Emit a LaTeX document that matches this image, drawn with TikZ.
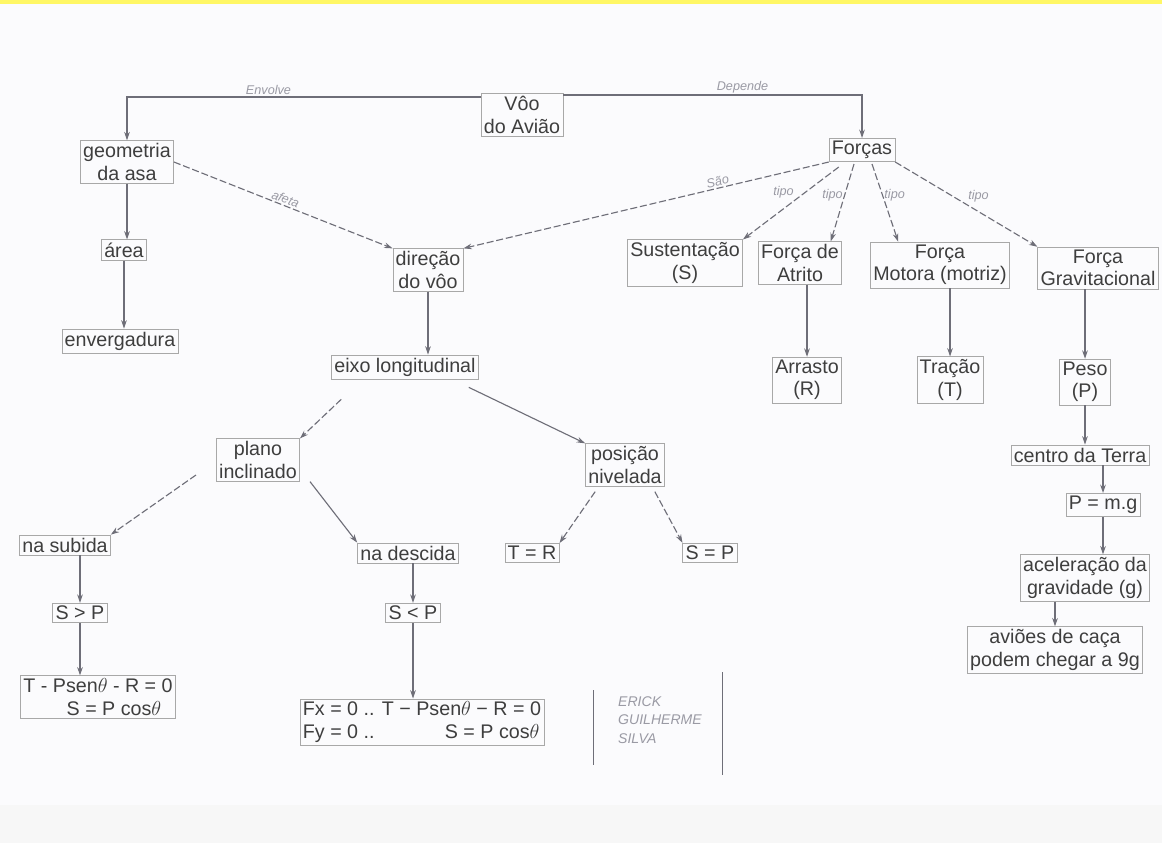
\documentclass[tikz,border=0pt]{standalone}
\usepackage{fontspec}
\setmainfont{Liberation Sans}
\usetikzlibrary{arrows.meta}
\definecolor{ink}{HTML}{3E3E3E}
\definecolor{ln}{HTML}{6E6E78}
\definecolor{bx}{HTML}{A8A8A8}
\definecolor{hand}{HTML}{9A9AA4}
\definecolor{paper}{HTML}{FBFBFD}
\tikzset{
  cbox/.style={draw=bx, line width=0.5pt, text=ink, align=center, inner sep=2pt,
     font=\fontsize{14}{16}\selectfont},
  link/.style={draw=ln, line width=0.8pt, -{Stealth[length=6pt,width=4pt]}},
  dlink/.style={link, dashed, dash pattern=on 5pt off 2pt},
  hlabel/.style={text=hand, font=\itshape\fontsize{9}{10}\selectfont, inner sep=1pt}
}
\begin{document}
\begin{tikzpicture}[x=0.025cm,y=-0.025cm]
\fill[paper] (0,0) rectangle (1162,843);
\useasboundingbox (0,0) rectangle (1162,843);
\fill[yellow!60!white] (0,0) rectangle (1162,4);
\fill[gray!6] (0,805) rectangle (1162,843);

% nodes
\node[cbox] (voo) at (522,115) {Vôo\\do Avião};
\node[cbox] (geo) at (127,162) {geometria\\da asa};
\node[cbox] (forcas) at (862,150) {Forças};
\node[cbox] (area) at (124,250) {área};
\node[cbox] (env) at (120,341) {envergadura};
\node[cbox] (dir) at (428,270) {direção\\do vôo};
\node[cbox] (eixo) at (405,367) {eixo longitudinal};
\node[cbox] (sust) at (685,263) {Sustentação\\(S)};
\node[cbox] (atr) at (800,263) {Força de\\Atrito};
\node[cbox] (mot) at (940,265) {Força\\Motora (motriz)};
\node[cbox] (grav) at (1098,268) {Força\\Gravitacional};
\node[cbox] (arr) at (807,380) {Arrasto\\(R)};
\node[cbox] (trac) at (950,380) {Tração\\(T)};
\node[cbox] (peso) at (1085,382) {Peso\\(P)};
\node[cbox] (centro) at (1080,455) {centro da Terra};
\node[cbox] (pmg) at (1103,505) {P = m.g};
\node[cbox] (acel) at (1085,578) {aceleração da\\gravidade (g)};
\node[cbox] (cacas) at (1055,650) {aviões de caça\\podem chegar a 9g};
\node[cbox] (plano) at (258,460) {plano\\inclinado};
\node[cbox] (pos) at (625,465) {posição\\nivelada};
\node[cbox] (sub) at (65,545) {na subida};
\node[cbox] (desc) at (408,553) {na descida};
\node[cbox] (tr) at (532,553) {T = R};
\node[cbox] (sp) at (710,553) {S = P};
\node[cbox] (sgp) at (80,613) {S > P};
\node[cbox] (slp) at (413,613) {S < P};
\node[cbox, align=left] (eq1) at (98,697) {T - Psen$\theta$ - R = 0\\\hspace*{2.2em}S = P cos$\theta$};
\node[cbox, align=left] (eq2) at (422,722) {Fx = 0 .. T − Psen$\theta$ − R = 0\\Fy = 0 .. \hspace*{3.2em}S = P cos$\theta$};
\node[text=hand, align=left, font=\itshape\fontsize{10}{13}\selectfont] (names) at (660,720) {ERICK\\GUILHERME\\SILVA};
\coordinate (nl1) at (593,690); \coordinate (nl2) at (593,765);
\coordinate (nr1) at (722,672); \coordinate (nr2) at (722,775);
\draw[ln, line width=0.7pt] (nl1) -- (nl2);
\draw[ln, line width=0.7pt] (nr1) -- (nr2);

% connectors from root
\draw[link] (voo.west |- 0,97) -| (geo.north) node[hlabel, pos=0.3, above] {Envolve};
\draw[link] (voo.east |- 0,95) -| (forcas.north) node[hlabel, pos=0.3, above] {Depende};

\draw[dlink] (geo.east) -- (dir.north west) node[hlabel, midway, above, sloped] {afeta};
\draw[dlink] (forcas.south west) -- (dir.north east) node[hlabel, pos=0.3, above, sloped] {São};
\draw[dlink] (forcas.south west) ++(10,5) -- (sust.north east) node[hlabel, pos=0.45, above left] {tipo};
\draw[dlink] (forcas.south) ++(-8,2) -- ([xshift=-8pt]atr.north east) node[hlabel, pos=0.4, left] {tipo};
\draw[dlink] (forcas.south) ++(10,2) -- ([xshift=20pt]mot.north west) node[hlabel, pos=0.4, right] {tipo};
\draw[dlink] (forcas.south east) -- (grav.north west) node[hlabel, midway, above right] {tipo};

\draw[link] (geo.south) -- (geo.south |- area.north);
\draw[link] (area.south) -- (area.south |- env.north);
\draw[link] (dir.south) -- (dir.south |- eixo.north);
\draw[dlink] (eixo.south west) ++(10,20) -- (plano.north east);
\draw[link] (eixo.south east) ++(-10,8) -- (pos.north west);
\draw[dlink] (plano.west) ++(-20,15) -- (sub.north east);
\draw[link] (plano.south east) ++(10,0) -- (desc.north west);
\draw[dlink] (pos.south west) ++(10,5) -- (tr.north east);
\draw[dlink] (pos.south east) ++(-10,5) -- (sp.north west);
\draw[link] (sub.south -| sgp) -- (sgp.north);
\draw[link] (desc.south -| slp) -- (slp.north);
\draw[link] (sgp.south) -- (sgp.south |- eq1.north);
\draw[link] (slp.south) -- (slp.south |- eq2.north);

\draw[link] (atr.south -| arr) -- (arr.north);
\draw[link] (mot.south -| trac) -- (trac.north);
\draw[link] (grav.south -| peso) -- (peso.north);
\draw[link] (peso.south) -- (peso.south |- centro.north);
\draw[link] (centro.south -| pmg.north) -- (pmg.north);
\draw[link] (pmg.south) -- (pmg.south |- acel.north);
\draw[link] (acel.south -| cacas.north) -- (cacas.north);
\end{tikzpicture}
\end{document}
